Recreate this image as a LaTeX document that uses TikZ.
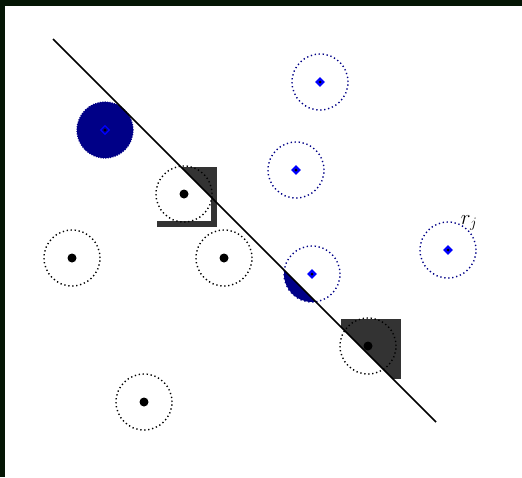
\documentclass[tikz,border=0pt]{standalone}
\usetikzlibrary{shapes.geometric}
\definecolor{navyc}{RGB}{0,0,135}
\definecolor{grayc}{RGB}{51,51,51}
\definecolor{borderc}{RGB}{5,22,5}
\definecolor{markc}{RGB}{0,0,255}
\begin{document}
\begin{tikzpicture}[x=1pt,y=-1pt,
  ring/.style={circle, minimum size=56pt, inner sep=0pt, draw=black, line width=1.4pt, dash pattern=on 1.3pt off 2.7pt},
  bring/.style={ring, draw=navyc},
  fullc/.style={circle, minimum size=56pt, inner sep=0pt, fill=navyc, draw=navyc, line width=1.2pt, dash pattern=on 1.2pt off 1.2pt},
  bdot/.style={circle, fill=black, minimum size=9pt, inner sep=0pt},
  bmark/.style={diamond, fill=markc, minimum size=10pt, inner sep=0pt},
  bmarkline/.style={diamond, draw=markc, line width=1.2pt, minimum size=9pt, inner sep=0pt},
  cdot/.style={circle, fill=black, minimum size=3pt, inner sep=0pt}]
\useasboundingbox (0,0) rectangle (522,477);
\fill[borderc] (0,0) rectangle (522,477);
\fill[white] (5,6) rectangle (522,477);
% gray squares
\fill[grayc] (157,167) rectangle (217,227);
\begin{scope}
  \clip (-100,-114) -- (700,686) -- (-100,686) -- cycle;
  \fill[white] (157,167) rectangle (211,221);
\end{scope}
\begin{scope}
  \clip (-100,-114) -- (700,686) -- (700,-114) -- cycle;
  \fill[grayc] (341,319) rectangle (401,379);
\end{scope}
% navy segment
\begin{scope}
  \clip (-100,-114) -- (700,686) -- (-100,686) -- cycle;
  \fill[navyc] (312,274) circle (28);
\end{scope}
% filled navy circle
\node[fullc] (f1) at (105,130) {};
\node[bmarkline] (fm1) at (105,130) {};
\node[cdot] at (fm1) {};
% black rings
\node[ring] (k1) at (184,194) {};
\node[bdot] at (k1) {};
\node[ring] (k2) at (72,258) {};
\node[bdot] at (k2) {};
\node[ring] (k3) at (224,258) {};
\node[bdot] at (k3) {};
\node[ring] (k4) at (368,346) {};
\node[bdot] at (k4) {};
\node[ring] (k5) at (144,402) {};
\node[bdot] at (k5) {};
% blue rings
\node[bring] (b1) at (320,82) {};
\node[bmark] at (b1) {};
\node[cdot] at (b1) {};
\node[bring] (b2) at (296,170) {};
\node[bmark] at (b2) {};
\node[cdot] at (b2) {};
\node[bring] (b3) at (312,274) {};
\node[bmark] at (b3) {};
\node[cdot] at (b3) {};
\node[bring] (b4) at (448,250) {};
\node[bmark] at (b4) {};
\node[cdot] at (b4) {};
\node[font=\huge, inner sep=0pt] (lbl) at (469,223) {$r_j$};
% line
\coordinate (la) at (53,39);
\coordinate (lb) at (436,422);
\draw[line width=1.5pt] (la) -- (lb);
\end{tikzpicture}
\end{document}
